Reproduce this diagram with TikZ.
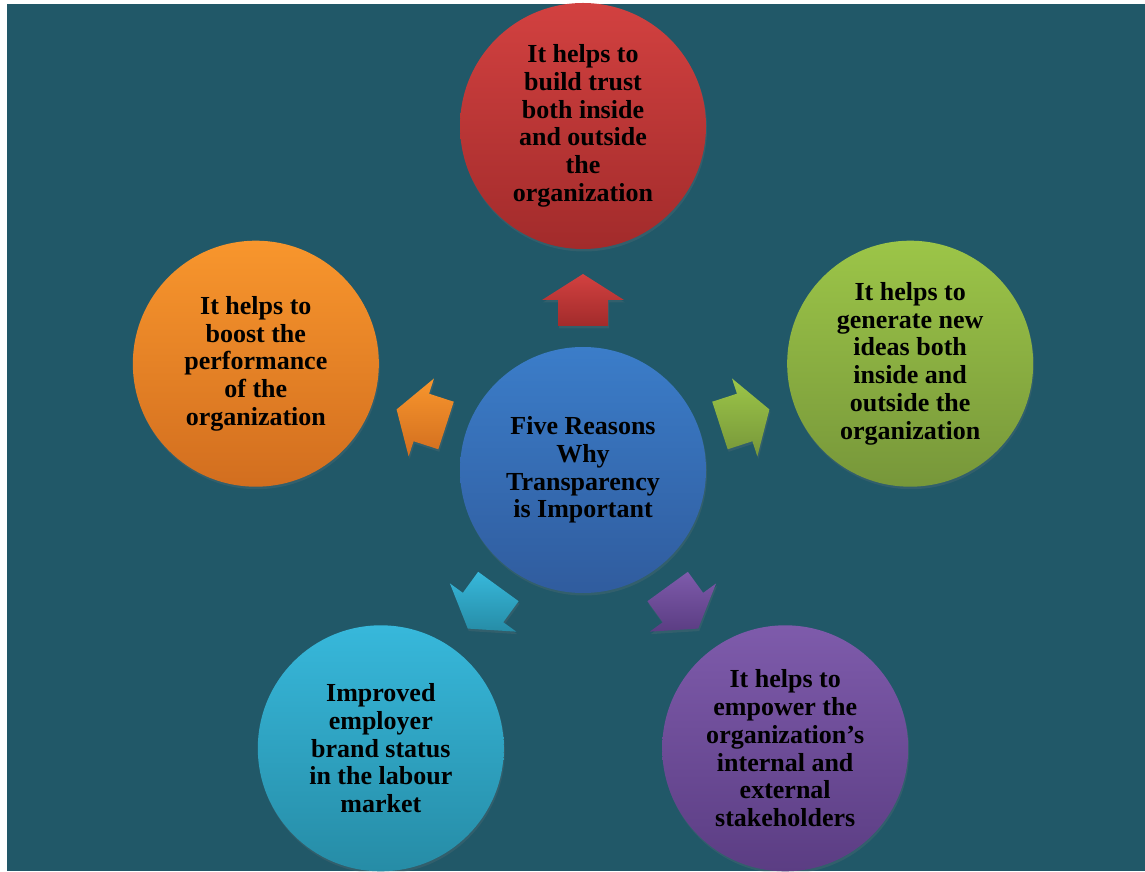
\documentclass[tikz,border=0pt]{standalone}
\usepackage{fontspec}
\setmainfont{Liberation Serif}
\usetikzlibrary{calc,shadows}

\definecolor{bgteal}{HTML}{215868}
\definecolor{bluetop}{HTML}{3B7DC9}
\definecolor{bluebot}{HTML}{305C9E}
\definecolor{redtop}{HTML}{D24140}
\definecolor{redbot}{HTML}{A22B2B}
\definecolor{greentop}{HTML}{9CC548}
\definecolor{greenbot}{HTML}{77973A}
\definecolor{orangetop}{HTML}{F8962D}
\definecolor{orangebot}{HTML}{D26E1F}
\definecolor{cyantop}{HTML}{37B8DB}
\definecolor{cyanbot}{HTML}{268CA6}
\definecolor{purpletop}{HTML}{7E5BAB}
\definecolor{purplebot}{HTML}{5B3D83}

\begin{document}
\begin{tikzpicture}
          [x=1pt,y=1pt,every node/.style={circle, inner sep = 0pt, minimum size = 246pt, align=center, font=\fontsize{26}{27.7}\selectfont\bfseries},
           soft/.style={drop shadow={shadow xshift=1pt, shadow yshift=-2.5pt, opacity=.18}}]
        \useasboundingbox (0,0) rectangle (1145,871);
        \fill[bgteal] (7,0) rectangle (1145,867);

        \coordinate (c) at (583,401);

        \foreach \ang/\top/\bot in {90/redtop/redbot, 18/greentop/greenbot, 162/orangetop/orangebot, -54/purpletop/purplebot, 234/cyantop/cyanbot}
          \shade[top color=\top, bottom color=\bot, soft]
            ($(c)+(\ang:144)+(\ang+90:25)$) -- ($(c)+(\ang:170)+(\ang+90:25)$) -- ($(c)+(\ang:170)+(\ang+90:41)$)
            -- ($(c)+(\ang:196)$)
            -- ($(c)+(\ang:170)+(\ang-90:41)$) -- ($(c)+(\ang:170)+(\ang-90:25)$) -- ($(c)+(\ang:144)+(\ang-90:25)$) -- cycle;

        \node[top color=bluetop, bottom color=bluebot, soft] (n0) at (c) {Five Reasons\\Why\\Transparency\\is Important};
        \node[top color=redtop, bottom color=redbot, soft] (n1) at ($(c)+(90:344)$) {It helps to\\build trust\\both inside\\and outside\\the\\organization};
        \node[top color=greentop, bottom color=greenbot, soft] (n2) at ($(c)+(18:344)$) {It helps to\\generate new\\ideas both\\inside and\\outside the\\organization};
        \node[top color=orangetop, bottom color=orangebot, soft] (n3) at ($(c)+(162:344)$) {It helps to\\boost the\\performance\\of the\\organization};
        \node[top color=purpletop, bottom color=purplebot, soft] (n4) at ($(c)+(-54:344)$) {It helps to\\empower the\\organization’s\\internal and\\external\\stakeholders};
        \node[top color=cyantop, bottom color=cyanbot, soft] (n5) at ($(c)+(234:344)$) {Improved\\employer\\brand status\\in the labour\\market};
      \end{tikzpicture}
\end{document}
